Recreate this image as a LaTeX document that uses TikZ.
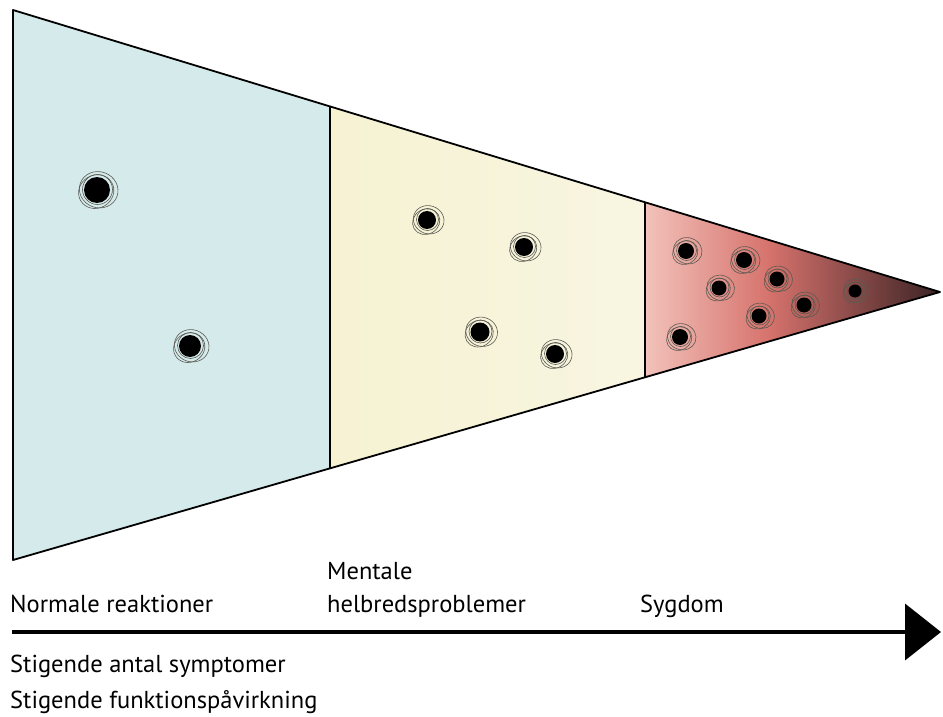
\documentclass[tikz,border=0pt]{standalone}
\usepackage{fontspec}
\setmainfont{PT Sans}
\usetikzlibrary{arrows.meta,positioning}

\definecolor{panelblue}{HTML}{D5EAEA}
\definecolor{panelyellow}{HTML}{F6F2D2}
\definecolor{panelyellowb}{HTML}{F8F5E2}
\definecolor{sickpink}{HTML}{F2C2BA}
\definecolor{sickred}{HTML}{D6726C}
\definecolor{sickdark}{HTML}{3A2224}
\definecolor{ringgray}{HTML}{5A5A52}

\tikzset{
  edge/.style={black, line width=1.8pt, line join=round},
  divider/.style={black, line width=1.3pt},
  ring/.style={ringgray, line width=0.6pt},
  label/.style={font=\fontsize{24.5}{28}\selectfont, inner sep=0pt, anchor=base west}
}

% spot with scribbled rings: x, y, radius
\newcommand{\spot}[3]{%
  \fill[black] (#1,#2) circle (#3);
  \draw[ring] (#1+0.5,#2-0.5) circle (#3+2);
  \draw[ring, rotate around={30:(#1,#2)}] (#1-1.5,#2+1) ellipse ({#3+5} and {#3+3.5});
  \draw[ring, rotate around={-20:(#1,#2)}] (#1+1.5,#2-0.8) ellipse ({#3+6.5} and {#3+5});
}

\begin{document}
\begin{tikzpicture}[x=1pt, y=-1pt]
\useasboundingbox (0,0) rectangle (943,717);

% corners of the funnel
\coordinate (tl) at (13,10);
\coordinate (bl) at (13,560);
\coordinate (apex) at (940,292);
\coordinate (t1) at (330,106);
\coordinate (b1) at (330,468);
\coordinate (t2) at (645,202);
\coordinate (b2) at (645,378);

% Draw panels
\fill[panelblue] (tl) -- (t1) -- (b1) -- (bl) -- cycle;
\shade[left color=panelyellow, right color=panelyellowb] (t1) -- (t2) -- (b2) -- (b1) -- cycle;
\begin{scope}
  \clip (t2) -- (apex) -- (b2) -- cycle;
  \shade[left color=sickpink, right color=sickred] (645,190) rectangle (770,390);
  \shade[left color=sickred, right color=sickdark] (769,190) rectangle (941,390);
\end{scope}

% Draw outline
\draw[edge] (tl) -- (apex) -- (bl) -- cycle;
\draw[divider] (t1) -- (b1);
\draw[divider] (t2) -- (b2);

% Draw spots
\spot{97}{190}{13}
\spot{190}{346}{11}
\spot{427}{220}{9}
\spot{524}{247}{9}
\spot{480}{332}{9.5}
\spot{555}{354}{9}
\spot{686}{251}{8}
\spot{744}{260}{8}
\spot{719}{288}{7.5}
\spot{777}{279}{7.5}
\spot{759}{316}{7.5}
\spot{804}{305}{7.5}
\spot{855}{291}{6.5}
\spot{680}{337}{8}

% Draw axis
\coordinate (ax0) at (12,632);
\coordinate (ax1) at (941,632);
\draw[line width=4pt, -{Triangle[length=36pt,width=56pt]}] (ax0) -- (ax1);

% Add labels
\node[label] (normal) at (10,612) {Normale reaktioner};
\node[label] (mental) at (327,579) {Mentale};
\node[label] (helbred) at (327,612) {helbredsproblemer};
\node[label] (sygdom) at (640,612) {Sygdom};
\node[label] (symptom) at (10,672) {Stigende antal symptomer};
\node[label] (funktion) at (10,708) {Stigende funktionspåvirkning};
\end{tikzpicture}
\end{document}
